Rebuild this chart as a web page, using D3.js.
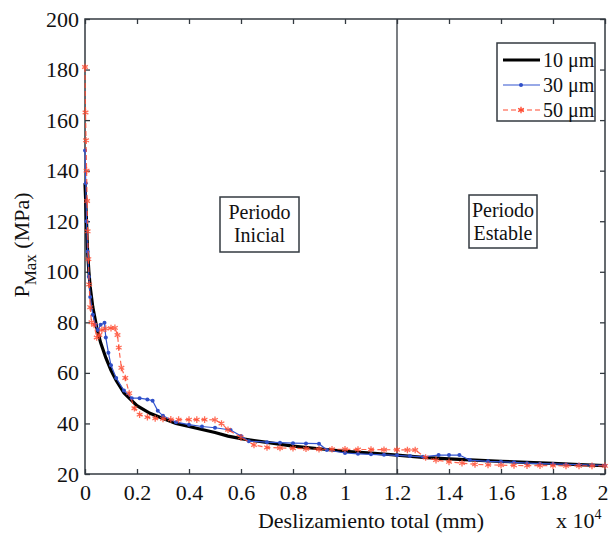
<!DOCTYPE html>
<html lang="es">
<head>
<meta charset="UTF-8">
<title>PMax vs deslizamiento</title>
<script src="https://d3js.org/d3.v7.min.js"></script>
<style>
  body { margin: 0; background: #fff; }
  text { font-family: "Liberation Serif", "Times New Roman", "DejaVu Serif", serif; fill: #111; }
</style>
</head>
<body>
<svg id="chart" width="609" height="536"></svg>
<script>
// x in units of 10^4 mm, y in MPa
var xTicks = [0, 0.2, 0.4, 0.6, 0.8, 1, 1.2, 1.4, 1.6, 1.8, 2];
var yTicks = [20, 40, 60, 80, 100, 120, 140, 160, 180, 200];

var x10 = [0, 0.005, 0.01, 0.015, 0.02, 0.03, 0.045, 0.06, 0.08, 0.1, 0.12, 0.15, 0.2, 0.25, 0.3, 0.35, 0.4, 0.45, 0.5, 0.55, 0.6, 0.65, 0.7, 0.8, 0.9, 1.0, 1.1, 1.2, 1.3, 1.4, 1.5, 1.6, 1.7, 1.8, 1.9, 2.0];
var y10 = [135, 122, 108, 100, 94, 86, 78, 72, 66, 61, 57, 52, 47, 44, 42, 40, 38.8, 37.6, 36.4, 35, 34, 33.2, 32.5, 31, 30, 29, 28.3, 27.5, 26.6, 26, 25.5, 25, 24.6, 24.2, 23.7, 23.3];

var x30 = [0, 0.003, 0.006, 0.01, 0.015, 0.02, 0.03, 0.04, 0.05, 0.06, 0.075, 0.08, 0.09, 0.1, 0.12, 0.15, 0.18, 0.21, 0.24, 0.26, 0.28, 0.3, 0.35, 0.4, 0.45, 0.5, 0.56, 0.6, 0.63, 0.7, 0.75, 0.8, 0.85, 0.9, 0.93, 1.0, 1.05, 1.1, 1.15, 1.2, 1.25, 1.3, 1.36, 1.4, 1.44, 1.48, 1.55, 1.6, 1.65, 1.7, 1.75, 1.8, 1.85, 1.9, 1.95, 2.0];
var y30 = [148, 135, 120, 108, 98, 90, 83, 79, 77, 79, 79.8, 74, 68, 63, 58, 53, 50, 50, 49.5, 49, 45, 43, 40.5, 39.5, 38.8, 38.3, 37.4, 35, 33, 32.6, 32.4, 32.2, 32.1, 32, 29.5, 28.3, 28, 27.8, 27.6, 27.4, 27.1, 26.8, 27.5, 27.5, 27.5, 25.5, 25, 24.8, 24.6, 24.3, 24.1, 24, 23.8, 23.7, 23.5, 23.4];

var x50 = [0, 0.002, 0.004, 0.006, 0.008, 0.01, 0.013, 0.016, 0.02, 0.025, 0.035, 0.045, 0.055, 0.065, 0.08, 0.1, 0.115, 0.125, 0.13, 0.14, 0.155, 0.17, 0.19, 0.21, 0.24, 0.27, 0.3, 0.33, 0.36, 0.4, 0.43, 0.46, 0.5, 0.525, 0.55, 0.6, 0.65, 0.7, 0.75, 0.8, 0.85, 0.9, 0.95, 1.0, 1.05, 1.1, 1.15, 1.2, 1.24, 1.27, 1.31, 1.35, 1.4, 1.45, 1.5, 1.55, 1.6, 1.65, 1.7, 1.75, 1.8, 1.85, 1.9, 1.95, 2.0];
var y50 = [181, 163, 152, 140, 128, 116, 105, 95, 86, 80, 79, 74, 75, 77, 77.5, 77.7, 77.8, 75, 70, 62, 58, 52, 46, 43.5, 42.5, 42, 41.8, 41.6, 41.5, 41.5, 41.5, 41.5, 41.4, 40, 37.5, 34.5, 31.5, 30.5, 30.3, 30.2, 30, 29.8, 29.8, 29.8, 29.7, 29.7, 29.6, 29.6, 29.5, 29.5, 26.5, 25.5, 24.8, 24.3, 23.8, 23.6, 23.5, 23.4, 23.3, 23.3, 23.3, 23.2, 23.2, 23.2, 23.2];

var svg = d3.select("#chart");
var L = 85, R = 605, T = 19, B = 474;
var serif = "'Liberation Serif', 'Times New Roman', serif";
var x = d3.scaleLinear().domain([0, 2]).range([L, R]);
var y = d3.scaleLinear().domain([20, 200]).range([B, T]);
var axisColor = "#333a40";

function pts(xs, ys) { return xs.map(function(v, i) { return [v, ys[i]]; }); }
var line = d3.line().x(function(d) { return x(d[0]); }).y(function(d) { return y(d[1]); });

// axes with inward ticks on all sides
var g = svg.append("g");
var xb = g.append("g").attr("transform", "translate(0," + B + ")")
  .call(d3.axisBottom(x).tickValues(xTicks).tickSize(-5).tickPadding(10).tickFormat(d3.format("~g")));
g.append("g").attr("transform", "translate(0," + T + ")")
  .call(d3.axisTop(x).tickValues(xTicks).tickSize(-5).tickFormat(""));
g.append("g").attr("transform", "translate(" + L + ",0)")
  .call(d3.axisLeft(y).tickValues(yTicks).tickSize(-5).tickPadding(6));
g.append("g").attr("transform", "translate(" + R + ",0)")
  .call(d3.axisRight(y).tickValues(yTicks).tickSize(-5).tickFormat(""));
g.selectAll(".domain").remove();
g.selectAll("g").attr("font-family", serif);
g.selectAll(".tick line").attr("stroke", axisColor).attr("stroke-width", 1.3);
g.selectAll(".tick text").attr("font-size", 22).attr("font-family", serif).attr("fill", "#111");
// keep the last x label inside the picture
xb.selectAll(".tick text").filter(function(d) { return d === 2; })
  .attr("text-anchor", "end").attr("x", 3);

svg.append("rect").attr("x", L).attr("y", T).attr("width", R - L).attr("height", B - T)
  .attr("fill", "none").attr("stroke", axisColor).attr("stroke-width", 1.5);

// period separator
svg.append("line").attr("x1", x(1.2)).attr("x2", x(1.2)).attr("y1", T).attr("y2", B)
  .attr("stroke", axisColor).attr("stroke-width", 1.3);

// series
svg.append("path").datum(pts(x10, y10)).attr("d", line)
  .attr("fill", "none").attr("stroke", "#000").attr("stroke-width", 3.2);

svg.append("path").datum(pts(x30, y30)).attr("d", line)
  .attr("fill", "none").attr("stroke", "#3355d0").attr("stroke-width", 1.2);
svg.append("g").selectAll("circle").data(pts(x30, y30)).join("circle")
  .attr("cx", function(d) { return x(d[0]); }).attr("cy", function(d) { return y(d[1]); })
  .attr("r", 2).attr("fill", "#2f4fc8");

svg.append("path").datum(pts(x50, y50)).attr("d", line)
  .attr("fill", "none").attr("stroke", "#ff4a30").attr("stroke-width", 1.2)
  .attr("stroke-dasharray", "5,3").attr("opacity", 0.85);
var star = d3.symbol().type(d3.symbolAsterisk).size(30);
svg.append("g").selectAll("path").data(pts(x50, y50)).join("path")
  .attr("d", star)
  .attr("transform", function(d) { return "translate(" + x(d[0]) + "," + y(d[1]) + ")"; })
  .attr("fill", "none").attr("stroke", "#ff4a30").attr("stroke-width", 1.3).attr("opacity", 0.8);

// annotation boxes
function noteBox(x0, y0, w, h, lines) {
  svg.append("rect").attr("x", x0).attr("y", y0).attr("width", w).attr("height", h)
    .attr("fill", "#fff").attr("stroke", axisColor).attr("stroke-width", 1.5);
  lines.forEach(function(s, i) {
    svg.append("text").attr("x", x0 + w / 2).attr("y", y0 + 22 + i * 23)
      .attr("text-anchor", "middle").attr("font-family", serif).attr("font-size", 20).text(s);
  });
}
noteBox(220, 197, 79, 55, ["Periodo", "Inicial"]);
noteBox(469, 195, 68, 53, ["Periodo", "Estable"]);

// legend
var leg = svg.append("g");
leg.append("rect").attr("x", 497).attr("y", 43).attr("width", 98).attr("height", 78)
  .attr("fill", "#fff").attr("stroke", axisColor).attr("stroke-width", 1.5);
var legItems = ["10 \u03bcm", "30 \u03bcm", "50 \u03bcm"];
legItems.forEach(function(s, i) {
  var yy = 60 + i * 25;
  var ln = leg.append("line").attr("x1", 503).attr("x2", 540).attr("y1", yy).attr("y2", yy);
  if (i === 0) ln.attr("stroke", "#000").attr("stroke-width", 3.2);
  if (i === 1) {
    ln.attr("stroke", "#3355d0").attr("stroke-width", 1.2);
    leg.append("circle").attr("cx", 521).attr("cy", yy).attr("r", 2).attr("fill", "#2f4fc8");
  }
  if (i === 2) {
    ln.attr("stroke", "#ff4a30").attr("stroke-width", 1.2).attr("stroke-dasharray", "5,3");
    leg.append("path").attr("d", star).attr("transform", "translate(521," + yy + ")")
      .attr("fill", "none").attr("stroke", "#ff4a30").attr("stroke-width", 1.3);
  }
  leg.append("text").attr("x", 543).attr("y", yy + 7).attr("font-family", serif)
    .attr("font-size", 20).text(s);
});

// axis titles
svg.append("text").attr("x", 371).attr("y", 528).attr("text-anchor", "middle")
  .attr("font-family", serif).attr("font-size", 22).text("Deslizamiento total (mm)");
var xp = svg.append("text").attr("x", 556).attr("y", 528)
  .attr("font-family", serif).attr("font-size", 22);
xp.append("tspan").text("x 10");
xp.append("tspan").attr("dy", -9).attr("font-size", 14).text("4");

var yl = svg.append("text").attr("transform", "translate(29,245) rotate(-90)")
  .attr("text-anchor", "middle").attr("font-family", serif).attr("font-size", 22);
yl.append("tspan").text("P");
yl.append("tspan").attr("dy", 7).attr("font-size", 17).text("Max");
yl.append("tspan").attr("dy", -7).text(" (MPa)");
</script>
</body>
</html>
